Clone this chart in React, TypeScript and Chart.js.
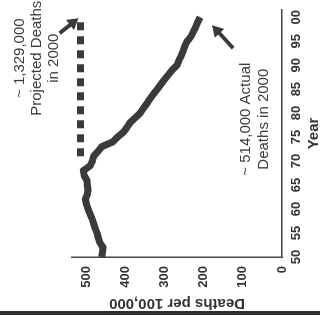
import React, { useEffect, useRef } from "react";
import { Chart, registerables } from "chart.js";

Chart.register(...registerables);

const years = [
  1950, 1951, 1952, 1953, 1954, 1955, 1956, 1957, 1958, 1959,
  1960, 1961, 1962, 1963, 1964, 1965, 1966, 1967, 1968, 1969,
  1970, 1971, 1972, 1973, 1974, 1975, 1976, 1977, 1978, 1979,
  1980, 1981, 1982, 1983, 1984, 1985, 1986, 1987, 1988, 1989,
  1990, 1991, 1992, 1993, 1994, 1995, 1996, 1997, 1998, 1999, 2000,
];
const deathRates = [
  460, 458, 457, 465, 469, 472, 477, 481, 485, 490,
  495, 499, 502, 497, 495, 497, 498, 505, 507, 490,
  484, 481, 470, 460, 432, 420, 405, 396, 388, 375,
  362, 354, 345, 337, 328, 318, 309, 300, 290, 280,
  268, 263, 257, 252, 248, 242, 232, 226, 220, 215, 209,
];
const projectedYears = [1971, 2000];
const projectedRates = [514, 514];
const valueTicks = [0, 100, 200, 300, 400, 500];
const yearTicks = [1950, 1955, 1960, 1965, 1970, 1975, 1980, 1985, 1990, 1995, 2000];
const projectedNote = ["~ 1,329,000", "Projected Deaths", "in 2000"];
const actualNote = ["~ 514,000 Actual", "Deaths in 2000"];
const xTitle = "Year";
const yTitle = "Deaths per 100,000";

const FONT = "'Liberation Sans', Arial, sans-serif";
const INK = "#3a3a3a";

function drawArrow(ctx: CanvasRenderingContext2D, x1: number, y1: number, x2: number, y2: number) {
  const dx = x2 - x1;
  const dy = y2 - y1;
  const len = Math.hypot(dx, dy);
  const ux = dx / len;
  const uy = dy / len;
  const headLen = 11;
  const headW = 13;
  const bx = x2 - ux * headLen;
  const by = y2 - uy * headLen;
  ctx.save();
  ctx.strokeStyle = INK;
  ctx.fillStyle = INK;
  ctx.lineWidth = 4;
  ctx.beginPath();
  ctx.moveTo(x1, y1);
  ctx.lineTo(bx + ux, by + uy);
  ctx.stroke();
  ctx.beginPath();
  ctx.moveTo(x2, y2);
  ctx.lineTo(bx - uy * headW / 2, by + ux * headW / 2);
  ctx.lineTo(bx + uy * headW / 2, by - ux * headW / 2);
  ctx.closePath();
  ctx.fill();
  ctx.restore();
}

export default function App() {
  const ref = useRef<HTMLCanvasElement>(null);

  useEffect(() => {
    const canvas = ref.current;
    if (!canvas) return;

    const notesPlugin = {
      id: "notes",
      afterDraw(chart: any) {
        const ctx: CanvasRenderingContext2D = chart.ctx;
        const xs = chart.scales.x;
        const ys = chart.scales.y;
        // page edge rule
        ctx.save();
        ctx.fillStyle = "#2e2e2e";
        ctx.fillRect(1, 0, 4, chart.height);
        ctx.restore();

        const lastYear = projectedYears[projectedYears.length - 1];
        const px = xs.getPixelForValue(lastYear);
        const pyProj = ys.getPixelForValue(projectedRates[projectedRates.length - 1]);
        const pyAct = ys.getPixelForValue(deathRates[deathRates.length - 1]);

        ctx.save();
        ctx.fillStyle = "#3c3c3c";
        ctx.font = `15px ${FONT}`;
        ctx.textAlign = "center";
        ctx.textBaseline = "middle";
        projectedNote.forEach((t, i) => {
          ctx.fillText(t, px - 41, pyProj - 61 + i * 17);
        });
        actualNote.forEach((t, i) => {
          ctx.fillText(t, px - 102, pyAct + 46 + i * 18);
        });
        ctx.restore();

        drawArrow(ctx, px - 16, pyProj - 21, px - 1, pyProj - 2);
        drawArrow(ctx, px - 31, pyAct + 33, px - 8, pyAct + 12);
      },
    };

    const chart = new Chart(canvas, {
      type: "line",
      data: {
        datasets: [
          {
            data: years.map((y, i) => ({ x: y, y: deathRates[i] })),
            borderColor: INK,
            borderWidth: 7,
            pointRadius: 0,
            tension: 0,
            borderJoinStyle: "round",
            borderCapStyle: "butt",
            fill: false,
          },
          {
            data: projectedYears.map((y, i) => ({ x: y, y: projectedRates[i] })),
            borderColor: INK,
            borderWidth: 7,
            borderDash: [8, 6],
            borderCapStyle: "butt",
            pointRadius: 0,
            fill: false,
          },
        ],
      },
      options: {
        responsive: false,
        animation: false,
        events: [],
        layout: { padding: { left: 4, right: 10, top: 72, bottom: 0 } },
        plugins: { legend: { display: false }, tooltip: { enabled: false } },
        scales: {
          x: {
            type: "linear",
            min: 1950,
            max: 2001.5,
            grid: { display: false, drawTicks: false },
            border: { display: true, color: "#444", width: 1.5 },
            afterBuildTicks: (s: any) => {
              s.ticks = yearTicks.map((v) => ({ value: v }));
            },
            afterFit: (s: any) => {
              s.height = 38;
            },
            ticks: {
              padding: 7,
              maxRotation: 0,
              minRotation: 0,
              color: "#333",
              font: { family: FONT, size: 13, weight: "bold" },
              callback: (v: any) => String(Number(v) % 100).padStart(2, "0"),
            },
            title: {
              display: true,
              text: xTitle,
              color: "#333",
              font: { family: FONT, size: 15, weight: "bold" },
              padding: { top: 0, bottom: -3 },
            },
          },
          y: {
            type: "linear",
            min: 0,
            max: 536,
            grid: { display: false, drawTicks: false },
            border: { display: true, color: "#444", width: 1.5 },
            afterBuildTicks: (s: any) => {
              s.ticks = valueTicks.map((v) => ({ value: v }));
            },
            afterFit: (s: any) => {
              s.width = 55;
            },
            ticks: {
              padding: 9,
              color: "#333",
              font: { family: FONT, size: 13, weight: "bold" },
            },
            title: {
              display: true,
              text: yTitle,
              color: "#333",
              font: { family: FONT, size: 15, weight: "bold" },
              padding: { top: 0, bottom: 0 },
            },
          },
        },
      },
      plugins: [notesPlugin],
    } as any);

    return () => chart.destroy();
  }, []);

  return (
    <div
      style={{
        position: "fixed",
        left: 0,
        top: 0,
        width: 320,
        height: 316,
        overflow: "hidden",
        background: "#fff",
      }}
    >
      <div
        style={{
          position: "absolute",
          left: 0,
          top: 0,
          width: 316,
          height: 320,
          transformOrigin: "0 0",
          transform: "translate(0px, 316px) rotate(-90deg)",
        }}
      >
        <canvas ref={ref} width={316} height={320} style={{ display: "block" }} />
      </div>
    </div>
  );
}
